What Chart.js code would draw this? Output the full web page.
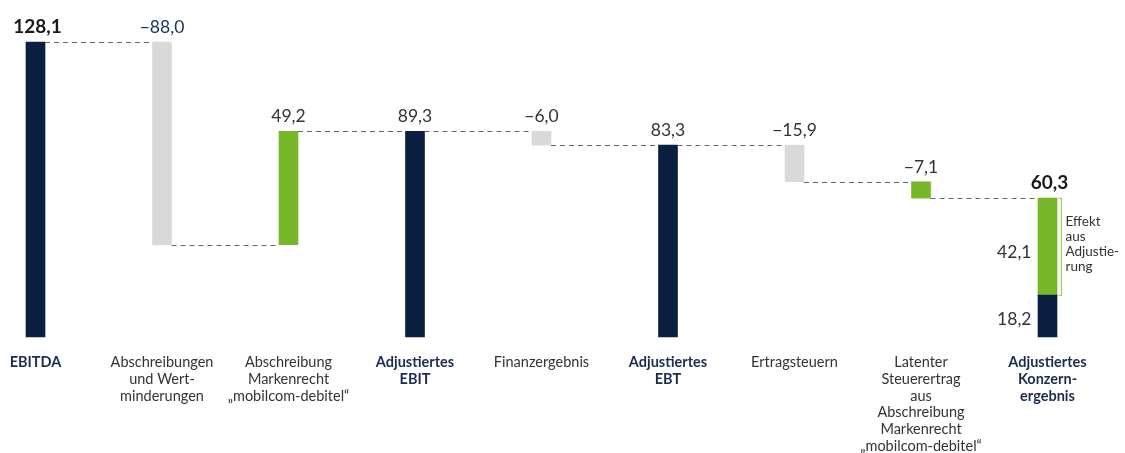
<!DOCTYPE html>
<html>
<head>
<meta charset="utf-8">
<script src="https://cdn.jsdelivr.net/npm/chart.js@4.4.0/dist/chart.umd.min.js"></script>
<style>
  html, body { margin: 0; background: #fff; }
  #wrap { width: 1125px; height: 453px; }
</style>
</head>
<body>
<div id="wrap"><canvas id="chart"></canvas></div>
<script>
// waterfall data (Mio. EUR)
const categories = [
  ["EBITDA"],
  ["Abschreibungen", "und Wert-", "minderungen"],
  ["Abschreibung", "Markenrecht", "„mobilcom-debitel“"],
  ["Adjustiertes", "EBIT"],
  ["Finanzergebnis"],
  ["Adjustiertes", "EBT"],
  ["Ertragsteuern"],
  ["Latenter", "Steuerertrag", "aus", "Abschreibung", "Markenrecht", "„mobilcom-debitel“"],
  ["Adjustiertes", "Konzern-", "ergebnis"],
];
const changes = [128.1, -88.0, 49.2, 89.3, -6.0, 83.3, -15.9, -7.1, 60.3];
const isTotal = [true, false, false, true, false, true, false, false, true];
const isAdjustment = [false, false, true, false, false, false, false, true, false];
// last total split: reported result + effect of adjustment
const finalSplit = [18.2, 42.1];
const braceText = ["Effekt", "aus", "Adjustie-", "rung"];

const NAVY = "#0b1f41";
const GREEN = "#76b82a";
const GREY = "#d9d9d9";
const TEXT = "#333333";
const FONT = "Lato, 'Open Sans', sans-serif";

// build floating ranges
let running = 0;
const ranges = changes.map((v, i) => {
  if (isTotal[i]) {
    running = v;
    return [0, v];
  }
  const r = [running, running + v];
  running += v;
  return r;
});
const levels = ranges.map((r, i) => (isTotal[i] ? r[1] : r[0] + changes[i]));
const last = ranges.length - 1;
ranges[last] = [0, finalSplit[0]];
const adjRange = ranges.map((r, i) => (i === last ? [finalSplit[0], finalSplit[0] + finalSplit[1]] : null));

const colors = changes.map((v, i) => (isTotal[i] ? NAVY : isAdjustment[i] ? GREEN : GREY));

const fmt = (v) => (v < 0 ? "\u2212" : "") + Math.abs(v).toFixed(1).replace(".", ",");

const overlay = {
  id: "overlay",
  afterDatasetsDraw(chart) {
    const { ctx, scales } = chart;
    const y = scales.y;
    const bars = chart.getDatasetMeta(0).data;
    ctx.save();

    // dashed connectors
    ctx.strokeStyle = "#666";
    ctx.lineWidth = 1;
    ctx.setLineDash([5, 4]);
    for (let i = 0; i < bars.length - 1; i++) {
      const yy = Math.round(y.getPixelForValue(levels[i])) + 0.5;
      ctx.beginPath();
      ctx.moveTo(bars[i].x + bars[i].width / 2, yy);
      ctx.lineTo(bars[i + 1].x - bars[i + 1].width / 2, yy);
      ctx.stroke();
    }
    ctx.setLineDash([]);

    // value labels above bars
    ctx.textAlign = "center";
    ctx.textBaseline = "alphabetic";
    changes.forEach((v, i) => {
      const top = i === last ? finalSplit[0] + finalSplit[1] : Math.max(...ranges[i]);
      const bold = i === 0 || i === last;
      ctx.font = (bold ? "bold 19px " : "17.5px ") + FONT;
      ctx.fillStyle = i === 1 ? "#1f3560" : bold ? "#1a1a1a" : TEXT;
      ctx.fillText(fmt(v), bars[i].x + (bold ? 2 : 0), y.getPixelForValue(top) - 9);
    });

    // split labels of last bar
    const fb = bars[last];
    ctx.font = "17.5px " + FONT;
    ctx.fillStyle = TEXT;
    ctx.textAlign = "right";
    ctx.textBaseline = "middle";
    ctx.fillText(fmt(finalSplit[1]), fb.x - 16, y.getPixelForValue(finalSplit[0] + finalSplit[1] / 2) + 6);
    ctx.fillText(fmt(finalSplit[0]), fb.x - 16, y.getPixelForValue(finalSplit[0] / 2) + 3);

    // brace for adjustment effect
    const bx = Math.round(fb.x + fb.width / 2 + 4) + 0.5;
    const bTop = Math.round(y.getPixelForValue(finalSplit[0] + finalSplit[1])) + 0.5;
    const bBot = Math.round(y.getPixelForValue(finalSplit[0])) + 0.5;
    ctx.strokeStyle = "#9acd5e";
    ctx.lineWidth = 1.2;
    ctx.beginPath();
    ctx.moveTo(bx - 3, bTop);
    ctx.lineTo(bx, bTop);
    ctx.lineTo(bx, bBot);
    ctx.lineTo(bx - 3, bBot);
    ctx.stroke();
    ctx.font = "13.5px " + FONT;
    ctx.fillStyle = TEXT;
    ctx.textAlign = "left";
    ctx.textBaseline = "alphabetic";
    braceText.forEach((t, k) => ctx.fillText(t, bx + 4, bTop + 27 + k * 15.3));

    // category labels
    ctx.textAlign = "center";
    categories.forEach((lines, i) => {
      ctx.font = (isTotal[i] ? "bold " : "") + "14.5px " + FONT;
      ctx.fillStyle = isTotal[i] ? "#1a2c50" : TEXT;
      lines.forEach((t, k) => ctx.fillText(t, bars[i].x, 367 + k * 16.8));
    });
    ctx.restore();
  },
};

new Chart(document.getElementById("chart"), {
  type: "bar",
  data: {
    labels: categories.map((c) => c.join(" ")),
    datasets: [
      { data: ranges, backgroundColor: colors, grouped: false, barThickness: 19, clip: false },
      { data: adjRange, backgroundColor: GREEN, grouped: false, barThickness: 19, clip: false },
    ],
  },
  options: {
    responsive: true,
    maintainAspectRatio: false,
    animation: false,
    layout: { padding: { left: 35.5, right: 77.5, top: 10, bottom: 116 } },
    plugins: { legend: { display: false }, tooltip: { enabled: false } },
    scales: {
      x: { display: false, offset: false, grid: { display: false } },
      y: { display: false, min: 0, max: 142, grid: { display: false } },
    },
  },
  plugins: [overlay],
});
</script>
</body>
</html>
